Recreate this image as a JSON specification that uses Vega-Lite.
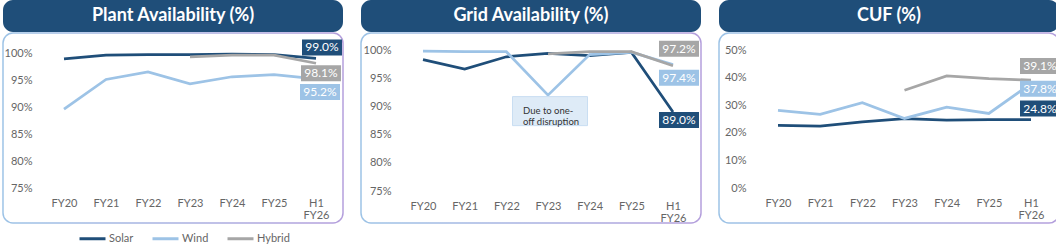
{
  "$schema": "https://vega.github.io/schema/vega-lite/v6.json",
  "padding": {"left": 2, "top": 0, "right": 0, "bottom": 0},
  "background": "white",
  "spacing": 16,
  "config": {
    "font": "Lato",
    "axis": {"domain": false, "ticks": false, "grid": false, "labelColor": "#666666", "labelFontSize": 11, "labelFont": "Lato", "title": null}
  },
  "datasets": {
    "p1": [
      {"series": "Solar", "period": "FY20", "value": 0.989},
      {"series": "Solar", "period": "FY21", "value": 0.996},
      {"series": "Solar", "period": "FY22", "value": 0.997},
      {"series": "Solar", "period": "FY23", "value": 0.997},
      {"series": "Solar", "period": "FY24", "value": 0.998},
      {"series": "Solar", "period": "FY25", "value": 0.997},
      {"series": "Solar", "period": "H1 FY26", "value": 0.990},
      {"series": "Wind", "period": "FY20", "value": 0.896},
      {"series": "Wind", "period": "FY21", "value": 0.951},
      {"series": "Wind", "period": "FY22", "value": 0.965},
      {"series": "Wind", "period": "FY23", "value": 0.943},
      {"series": "Wind", "period": "FY24", "value": 0.956},
      {"series": "Wind", "period": "FY25", "value": 0.960},
      {"series": "Wind", "period": "H1 FY26", "value": 0.952},
      {"series": "Hybrid", "period": "FY23", "value": 0.993},
      {"series": "Hybrid", "period": "FY24", "value": 0.996},
      {"series": "Hybrid", "period": "FY25", "value": 0.996},
      {"series": "Hybrid", "period": "H1 FY26", "value": 0.981}
    ],
    "p2": [
      {"series": "Solar", "period": "FY20", "value": 0.983},
      {"series": "Solar", "period": "FY21", "value": 0.966},
      {"series": "Solar", "period": "FY22", "value": 0.988},
      {"series": "Solar", "period": "FY23", "value": 0.994},
      {"series": "Solar", "period": "FY24", "value": 0.990},
      {"series": "Solar", "period": "FY25", "value": 0.996},
      {"series": "Solar", "period": "H1 FY26", "value": 0.890},
      {"series": "Wind", "period": "FY20", "value": 0.998},
      {"series": "Wind", "period": "FY21", "value": 0.997},
      {"series": "Wind", "period": "FY22", "value": 0.997},
      {"series": "Wind", "period": "FY23", "value": 0.920},
      {"series": "Wind", "period": "FY24", "value": 0.992},
      {"series": "Wind", "period": "FY25", "value": 0.996},
      {"series": "Wind", "period": "H1 FY26", "value": 0.974},
      {"series": "Hybrid", "period": "FY23", "value": 0.993},
      {"series": "Hybrid", "period": "FY24", "value": 0.997},
      {"series": "Hybrid", "period": "FY25", "value": 0.997},
      {"series": "Hybrid", "period": "H1 FY26", "value": 0.972}
    ],
    "p3": [
      {"series": "Solar", "period": "FY20", "value": 0.227},
      {"series": "Solar", "period": "FY21", "value": 0.224},
      {"series": "Solar", "period": "FY22", "value": 0.240},
      {"series": "Solar", "period": "FY23", "value": 0.251},
      {"series": "Solar", "period": "FY24", "value": 0.246},
      {"series": "Solar", "period": "FY25", "value": 0.248},
      {"series": "Solar", "period": "H1 FY26", "value": 0.248},
      {"series": "Wind", "period": "FY20", "value": 0.281},
      {"series": "Wind", "period": "FY21", "value": 0.267},
      {"series": "Wind", "period": "FY22", "value": 0.309},
      {"series": "Wind", "period": "FY23", "value": 0.252},
      {"series": "Wind", "period": "FY24", "value": 0.293},
      {"series": "Wind", "period": "FY25", "value": 0.270},
      {"series": "Wind", "period": "H1 FY26", "value": 0.378},
      {"series": "Hybrid", "period": "FY23", "value": 0.354},
      {"series": "Hybrid", "period": "FY24", "value": 0.406},
      {"series": "Hybrid", "period": "FY25", "value": 0.396},
      {"series": "Hybrid", "period": "H1 FY26", "value": 0.391}
    ]
  },
  "hconcat": [
    {
      "spacing": 0,
      "vconcat": [
        {
          "width": 340, "height": 32,
          "data": {"values": [{"t": "Plant Availability (%)"}]},
          "view": {"fill": "#1f4e79", "stroke": null, "cornerRadius": 10},
          "mark": {"type": "text", "color": "white", "fontSize": 18, "fontWeight": "bold", "font": "Lato"},
          "encoding": {"text": {"field": "t"}}
        },
        {
          "width": 340, "height": 190,
          "view": {"stroke": {"gradient": "linear", "x1": 0, "y1": 0, "x2": 1, "y2": 0, "stops": [{"offset": 0, "color": "#9dc3e6"}, {"offset": 1, "color": "#b49fdc"}]}, "strokeWidth": 1.5, "cornerRadius": 10},
          "data": {"name": "p1"},
          "encoding": {
            "x": {"field": "period", "type": "ordinal", "scale": {"type": "point", "padding": 0, "domain": ["FY20", "FY21", "FY22", "FY23", "FY24", "FY25", "H1 FY26"], "range": [61, 313]}, "axis": {"offset": -35, "labelPadding": 9, "labelAngle": 0, "labelExpr": "split(datum.label, ' ')", "labelLineHeight": 12}},
            "y": {"field": "value", "type": "quantitative", "scale": {"domain": [0.75, 1], "range": [155, 20]}, "axis": {"values": [0.75, 0.8, 0.85, 0.9, 0.95, 1], "format": ".0%", "offset": -31, "labelPadding": 2}}
          },
          "layer": [
            {"data": {"values": [{}]}, "mark": {"type": "rule", "color": "#d9d9d9", "strokeWidth": 1, "xOffset": -21, "x2Offset": 22}, "encoding": {"x": {"datum": "FY20"}, "x2": {"datum": "H1 FY26"}, "y": {"datum": 0.75}}},
            {"mark": {"type": "line", "strokeWidth": 2.75}, "encoding": {"color": {"field": "series", "type": "nominal", "sort": ["Solar", "Wind", "Hybrid"], "scale": {"domain": ["Solar", "Wind", "Hybrid"], "range": ["#1f4e79", "#9dc3e6", "#a6a6a6"]}, "legend": {"title": null, "orient": "none", "legendX": 75, "legendY": 224, "direction": "horizontal", "symbolType": "stroke", "symbolStrokeWidth": 3, "symbolSize": 676, "labelFontSize": 11, "labelColor": "#666666", "labelFont": "Lato", "columnPadding": 12, "labelOffset": 2, "padding": 0}}}},
            {"transform": [{"filter": "datum.series === 'Solar' && datum.period === 'H1 FY26'"}], "mark": {"type": "point", "shape": "M-1,-0.4H1V0.4H-1Z", "size": 1600, "filled": true, "opacity": 1, "strokeWidth": 0, "color": "#1f4e79", "xOffset": 6, "yOffset": -11}},
            {"transform": [{"filter": "datum.series === 'Solar' && datum.period === 'H1 FY26'"}], "mark": {"type": "text", "color": "white", "fontSize": 12, "xOffset": 6, "yOffset": -11}, "encoding": {"text": {"field": "value", "type": "quantitative", "format": ".1%"}}},
            {"transform": [{"filter": "datum.series === 'Hybrid' && datum.period === 'H1 FY26'"}], "mark": {"type": "point", "shape": "M-1,-0.4H1V0.4H-1Z", "size": 1600, "filled": true, "opacity": 1, "strokeWidth": 0, "color": "#a6a6a6", "xOffset": 5, "yOffset": 10}},
            {"transform": [{"filter": "datum.series === 'Hybrid' && datum.period === 'H1 FY26'"}], "mark": {"type": "text", "color": "white", "fontSize": 12, "xOffset": 5, "yOffset": 10}, "encoding": {"text": {"field": "value", "type": "quantitative", "format": ".1%"}}},
            {"transform": [{"filter": "datum.series === 'Wind' && datum.period === 'H1 FY26'"}], "mark": {"type": "point", "shape": "M-1,-0.4H1V0.4H-1Z", "size": 1600, "filled": true, "opacity": 1, "strokeWidth": 0, "color": "#9dc3e6", "xOffset": 4, "yOffset": 13}},
            {"transform": [{"filter": "datum.series === 'Wind' && datum.period === 'H1 FY26'"}], "mark": {"type": "text", "color": "white", "fontSize": 12, "xOffset": 4, "yOffset": 13}, "encoding": {"text": {"field": "value", "type": "quantitative", "format": ".1%"}}}
          ]
        }
      ]
    },
    {
      "spacing": 0,
      "vconcat": [
        {
          "width": 340, "height": 32,
          "data": {"values": [{"t": "Grid Availability (%)"}]},
          "view": {"fill": "#1f4e79", "stroke": null, "cornerRadius": 10},
          "mark": {"type": "text", "color": "white", "fontSize": 18, "fontWeight": "bold", "font": "Lato"},
          "encoding": {"text": {"field": "t"}}
        },
        {
          "width": 340, "height": 190,
          "view": {"stroke": {"gradient": "linear", "x1": 0, "y1": 0, "x2": 1, "y2": 0, "stops": [{"offset": 0, "color": "#9dc3e6"}, {"offset": 1, "color": "#b49fdc"}]}, "strokeWidth": 1.5, "cornerRadius": 10},
          "data": {"name": "p2"},
          "encoding": {
            "x": {"field": "period", "type": "ordinal", "scale": {"type": "point", "padding": 0, "domain": ["FY20", "FY21", "FY22", "FY23", "FY24", "FY25", "H1 FY26"], "range": [62, 312]}, "axis": {"offset": -32, "labelPadding": 9, "labelAngle": 0, "labelExpr": "split(datum.label, ' ')", "labelLineHeight": 12}},
            "y": {"field": "value", "type": "quantitative", "scale": {"domain": [0.75, 1], "range": [158, 17]}, "axis": {"values": [0.75, 0.8, 0.85, 0.9, 0.95, 1], "format": ".0%", "offset": -32, "labelPadding": 2}}
          },
          "layer": [
            {"data": {"values": [{}]}, "mark": {"type": "rule", "color": "#d9d9d9", "strokeWidth": 1, "xOffset": -21, "x2Offset": 22}, "encoding": {"x": {"datum": "FY20"}, "x2": {"datum": "H1 FY26"}, "y": {"datum": 0.75}}},
            {"mark": {"type": "line", "strokeWidth": 2.75}, "encoding": {"color": {"field": "series", "type": "nominal", "sort": ["Solar", "Wind", "Hybrid"], "scale": {"domain": ["Solar", "Wind", "Hybrid"], "range": ["#1f4e79", "#9dc3e6", "#a6a6a6"]}, "legend": {"title": null, "orient": "none", "legendX": 75, "legendY": 224, "direction": "horizontal", "symbolType": "stroke", "symbolStrokeWidth": 3, "symbolSize": 676, "labelFontSize": 11, "labelColor": "#666666", "labelFont": "Lato", "columnPadding": 12, "labelOffset": 2, "padding": 0}}}},
            {"transform": [{"filter": "datum.series === 'Wind' && datum.period === 'FY23'"}], "mark": {"type": "point", "shape": "M-1,-0.387H1V0.387H-1Z", "size": 5625, "filled": true, "opacity": 1, "color": "#deebf7", "stroke": "#c9def2", "strokeWidth": 1, "xOffset": 2, "yOffset": 16}},
            {"transform": [{"filter": "datum.series === 'Wind' && datum.period === 'FY23'"}], "mark": {"type": "text", "color": "#333333", "fontSize": 9.5, "align": "left", "lineHeight": 10.5, "xOffset": -25, "yOffset": 16}, "encoding": {"text": {"value": ["Due to one-", "off disruption"]}}},
            {"transform": [{"filter": "datum.series === 'Hybrid' && datum.period === 'H1 FY26'"}], "mark": {"type": "point", "shape": "M-1,-0.4H1V0.4H-1Z", "size": 1600, "filled": true, "opacity": 1, "strokeWidth": 0, "color": "#a6a6a6", "xOffset": 6, "yOffset": -17}},
            {"transform": [{"filter": "datum.series === 'Hybrid' && datum.period === 'H1 FY26'"}], "mark": {"type": "text", "color": "white", "fontSize": 12, "xOffset": 6, "yOffset": -17}, "encoding": {"text": {"field": "value", "type": "quantitative", "format": ".1%"}}},
            {"transform": [{"filter": "datum.series === 'Wind' && datum.period === 'H1 FY26'"}], "mark": {"type": "point", "shape": "M-1,-0.4H1V0.4H-1Z", "size": 1600, "filled": true, "opacity": 1, "strokeWidth": 0, "color": "#9dc3e6", "xOffset": 6, "yOffset": 13}},
            {"transform": [{"filter": "datum.series === 'Wind' && datum.period === 'H1 FY26'"}], "mark": {"type": "text", "color": "white", "fontSize": 12, "xOffset": 6, "yOffset": 13}, "encoding": {"text": {"field": "value", "type": "quantitative", "format": ".1%"}}},
            {"transform": [{"filter": "datum.series === 'Solar' && datum.period === 'H1 FY26'"}], "mark": {"type": "point", "shape": "M-1,-0.4H1V0.4H-1Z", "size": 1600, "filled": true, "opacity": 1, "strokeWidth": 0, "color": "#1f4e79", "xOffset": 6, "yOffset": 8}},
            {"transform": [{"filter": "datum.series === 'Solar' && datum.period === 'H1 FY26'"}], "mark": {"type": "text", "color": "white", "fontSize": 12, "xOffset": 6, "yOffset": 8}, "encoding": {"text": {"field": "value", "type": "quantitative", "format": ".1%"}}}
          ]
        }
      ]
    },
    {
      "spacing": 0,
      "vconcat": [
        {
          "width": 340, "height": 32,
          "data": {"values": [{"t": "CUF (%)"}]},
          "view": {"fill": "#1f4e79", "stroke": null, "cornerRadius": 10},
          "mark": {"type": "text", "color": "white", "fontSize": 18, "fontWeight": "bold", "font": "Lato"},
          "encoding": {"text": {"field": "t"}}
        },
        {
          "width": 340, "height": 190,
          "view": {"stroke": {"gradient": "linear", "x1": 0, "y1": 0, "x2": 1, "y2": 0, "stops": [{"offset": 0, "color": "#9dc3e6"}, {"offset": 1, "color": "#b49fdc"}]}, "strokeWidth": 1.5, "cornerRadius": 10},
          "data": {"name": "p3"},
          "encoding": {
            "x": {"field": "period", "type": "ordinal", "scale": {"type": "point", "padding": 0, "domain": ["FY20", "FY21", "FY22", "FY23", "FY24", "FY25", "H1 FY26"], "range": [59, 312]}, "axis": {"offset": -35, "labelPadding": 9, "labelAngle": 0, "labelExpr": "split(datum.label, ' ')", "labelLineHeight": 12}},
            "y": {"field": "value", "type": "quantitative", "scale": {"domain": [0, 0.5], "range": [155, 17]}, "axis": {"values": [0, 0.1, 0.2, 0.3, 0.4, 0.5], "format": ".0%", "offset": -29, "labelPadding": 2}}
          },
          "layer": [
            {"data": {"values": [{}]}, "mark": {"type": "rule", "color": "#d9d9d9", "strokeWidth": 1, "xOffset": -21, "x2Offset": 22}, "encoding": {"x": {"datum": "FY20"}, "x2": {"datum": "H1 FY26"}, "y": {"datum": 0}}},
            {"mark": {"type": "line", "strokeWidth": 2.75}, "encoding": {"color": {"field": "series", "type": "nominal", "sort": ["Solar", "Wind", "Hybrid"], "scale": {"domain": ["Solar", "Wind", "Hybrid"], "range": ["#1f4e79", "#9dc3e6", "#a6a6a6"]}, "legend": {"title": null, "orient": "none", "legendX": 75, "legendY": 224, "direction": "horizontal", "symbolType": "stroke", "symbolStrokeWidth": 3, "symbolSize": 676, "labelFontSize": 11, "labelColor": "#666666", "labelFont": "Lato", "columnPadding": 12, "labelOffset": 2, "padding": 0}}}},
            {"transform": [{"filter": "datum.series === 'Hybrid' && datum.period === 'H1 FY26'"}], "mark": {"type": "point", "shape": "M-1,-0.4H1V0.4H-1Z", "size": 1600, "filled": true, "opacity": 1, "strokeWidth": 0, "color": "#a6a6a6", "xOffset": 9, "yOffset": -14}},
            {"transform": [{"filter": "datum.series === 'Hybrid' && datum.period === 'H1 FY26'"}], "mark": {"type": "text", "color": "white", "fontSize": 12, "xOffset": 9, "yOffset": -14}, "encoding": {"text": {"field": "value", "type": "quantitative", "format": ".1%"}}},
            {"transform": [{"filter": "datum.series === 'Wind' && datum.period === 'H1 FY26'"}], "mark": {"type": "point", "shape": "M-1,-0.4H1V0.4H-1Z", "size": 1600, "filled": true, "opacity": 1, "strokeWidth": 0, "color": "#9dc3e6", "xOffset": 9, "yOffset": 5}},
            {"transform": [{"filter": "datum.series === 'Wind' && datum.period === 'H1 FY26'"}], "mark": {"type": "text", "color": "white", "fontSize": 12, "xOffset": 9, "yOffset": 5}, "encoding": {"text": {"field": "value", "type": "quantitative", "format": ".1%"}}},
            {"transform": [{"filter": "datum.series === 'Solar' && datum.period === 'H1 FY26'"}], "mark": {"type": "point", "shape": "M-1,-0.4H1V0.4H-1Z", "size": 1600, "filled": true, "opacity": 1, "strokeWidth": 0, "color": "#1f4e79", "xOffset": 9, "yOffset": -11}},
            {"transform": [{"filter": "datum.series === 'Solar' && datum.period === 'H1 FY26'"}], "mark": {"type": "text", "color": "white", "fontSize": 12, "xOffset": 9, "yOffset": -11}, "encoding": {"text": {"field": "value", "type": "quantitative", "format": ".1%"}}}
          ]
        }
      ]
    }
  ]
}
